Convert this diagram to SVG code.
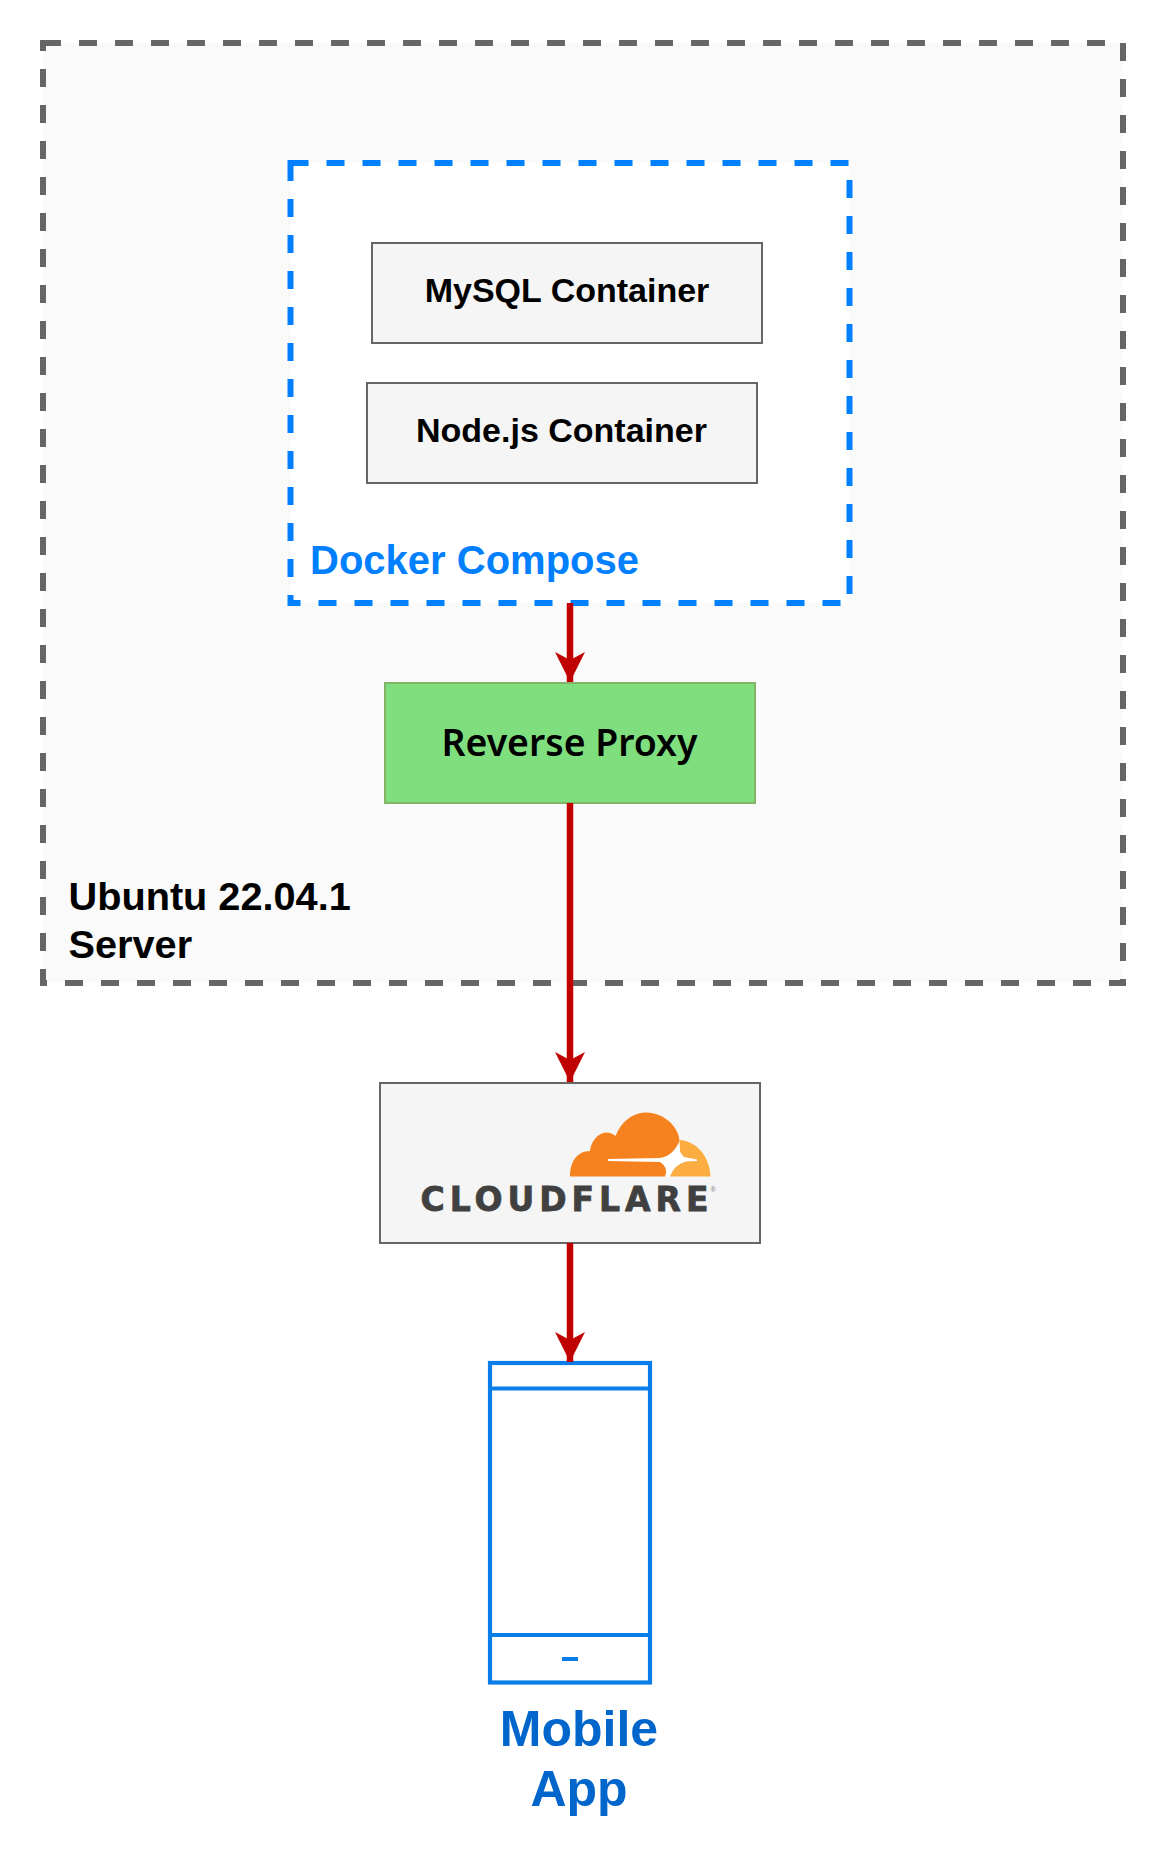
<svg xmlns="http://www.w3.org/2000/svg" width="1166" height="1858" viewBox="0 0 1166 1858">
<defs>
<style>
.a{font-family:"Liberation Sans",Arial,sans-serif;font-weight:700}
.box{fill:#f5f5f5;stroke:#666;stroke-width:2}
.conn{fill:none;stroke:#c00000;stroke-width:6.500;marker-end:url(#arr)}
.ph{fill:none;stroke:#0b7de8;stroke-width:4.200}
</style>
<marker id="arr" markerUnits="userSpaceOnUse" markerWidth="32" markerHeight="32" refX="30" refY="16" orient="auto" viewBox="0 0 32 32"><path d="M0 1L30 16L0 31L8 16Z" fill="#c00000"/></marker>
</defs>
<rect width="1166" height="1858" fill="#fff"/>
<g id="ubuntu-server">
<rect x="43" y="43" width="1080" height="940" fill="#fafafa" stroke="#666" stroke-width="6" stroke-dasharray="18 18"/>
<text class="a" font-size="39.700" fill="#000"><tspan x="68.500" y="909.500">Ubuntu 22.04.1</tspan><tspan x="68.500" y="957.500">Server</tspan></text>
</g>
<g id="docker-compose">
<rect x="290.500" y="163" width="559" height="440" fill="#fff" stroke="#007fff" stroke-width="6" stroke-dasharray="18 18"/>
<text class="a" x="310" y="574" font-size="40" fill="#007fff">Docker Compose</text>
</g>
<g id="mysql"><rect class="box" x="372" y="243" width="390" height="100"/><text class="a" x="567" y="301.500" font-size="34" text-anchor="middle">MySQL Container</text></g>
<g id="nodejs"><rect class="box" x="367" y="383" width="390" height="100"/><text class="a" x="561.500" y="441.500" font-size="34" text-anchor="middle">Node.js Container</text></g>
<g id="reverse-proxy"><rect x="385" y="683" width="370" height="120" fill="#7fdf7f" stroke="#82b366" stroke-width="2"/><text x="569.500" y="755.500" font-family="'Noto Sans',sans-serif" font-weight="600" font-size="37.400" text-anchor="middle">Reverse Proxy</text></g>
<g id="cloudflare"><rect class="box" x="380" y="1083" width="380" height="160"/>
<path d="M570 1176.500C570 1162 577 1151 590 1151C591 1141 598 1133 606 1132.500C610 1132.500 613 1134 615.500 1136C621 1122 632 1113 645 1112.500C664 1112 679 1127 679.500 1141C679.500 1150 676 1157 670 1160C666 1166 667 1171 665 1176.500Z" fill="#f6821f"/>
<path d="M679.500 1140C696 1141 710 1156 710.500 1176.500H670C672 1168 676 1160 680 1150Z" fill="#fbad41"/>
<path d="M608 1159L660 1158Q673 1156 679.500 1141Q678 1152 684 1157L697 1159.500V1161L686 1161.500Q675 1164 669.500 1177H665.500Q668 1166 660 1162L608 1161Z" fill="#fff"/>
<text x="420.500" y="1210.500" font-family="'DejaVu Sans',sans-serif" font-weight="700" font-size="33" fill="#404041" stroke="#404041" stroke-width="0.800" textLength="288" lengthAdjust="spacing">CLOUDFLARE</text>
<text x="710.500" y="1192" font-family="'Liberation Sans',sans-serif" font-size="7" fill="#808080">®</text>
</g>
<g id="mobile-app">
<rect class="ph" x="490" y="1363" width="160" height="319.500"/>
<path class="ph" d="M490 1388.500H650M490 1635H650M562 1659H578"/>
<text class="a" font-size="50" fill="#06c" text-anchor="middle"><tspan x="579" y="1745.500">Mobile</tspan><tspan x="579" y="1806">App</tspan></text>
</g>
<g id="connectors">
<path class="conn" d="M570 603V682"/>
<path class="conn" d="M570 803V1082"/>
<path class="conn" d="M570 1243V1362"/>
</g>
</svg>
